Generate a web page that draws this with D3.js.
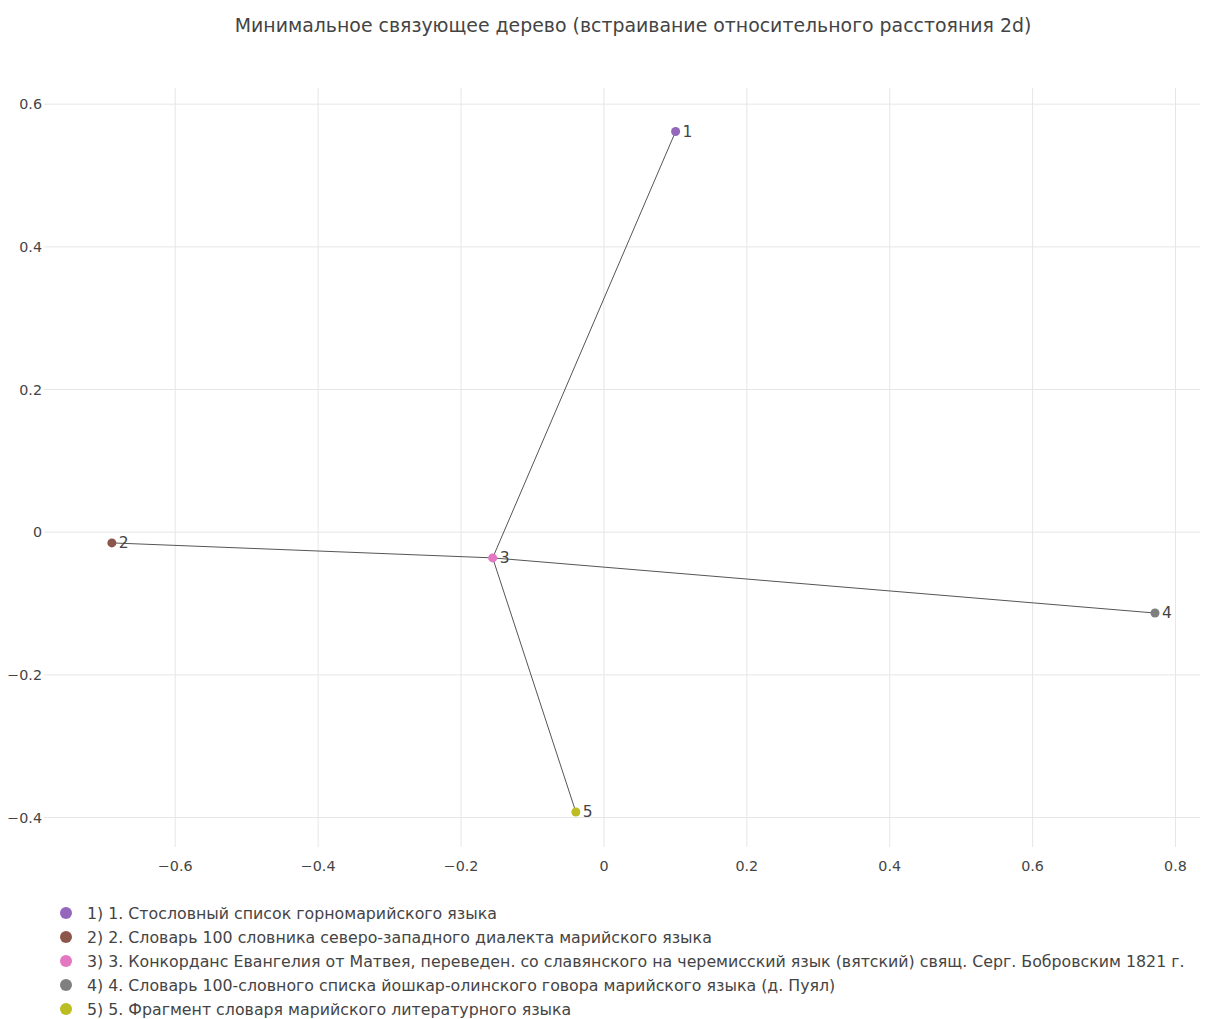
<!DOCTYPE html>
<html><head><meta charset="utf-8">
<script src="https://cdn.jsdelivr.net/npm/d3@7"></script>
<style>body{margin:0;background:#fff;} text{font-family:"DejaVu Sans",Verdana,sans-serif;}</style>
</head><body>
<svg id="c" width="1212" height="1019"></svg>
<script>
const ids = ["1","2","3","4","5"];
const xs = [0.101, -0.688, -0.155, 0.772, -0.0386];
const ys = [0.561, -0.0157, -0.0367, -0.114, -0.393];
const colors = ["#9467bd","#8c564b","#e377c2","#7f7f7f","#bcbd22"];
const names = [
 "1) 1. Стословный список горномарийского языка",
 "2) 2. Словарь 100 словника северо-западного диалекта марийского языка",
 "3) 3. Конкорданс Евангелия от Матвея, переведен. со славянского на черемисский язык (вятский) свящ. Серг. Бобровским 1821 г.",
 "4) 4. Словарь 100-словного списка йошкар-олинского говора марийского языка (д. Пуял)",
 "5) 5. Фрагмент словаря марийского литературного языка"
];
const edges = [[0,2],[1,2],[2,3],[2,4]];
const xTicks = [-0.6,-0.4,-0.2,0,0.2,0.4,0.6,0.8];
const yTicks = [-0.4,-0.2,0,0.2,0.4,0.6];
const title = "Минимальное связующее дерево (встраивание относительного расстояния 2d)";

const svg = d3.select("#c");
const L=44,R=1200,T=88,B=847;
const x = d3.scaleLinear().domain([-0.783,0.835]).range([L,R]);
const y = d3.scaleLinear().domain([-0.442,0.622]).range([B,T]);
const fmt = v => v===0 ? "0" : (v<0 ? "\u2212"+d3.format(".1f")(-v) : d3.format(".1f")(v));

svg.append("text").attr("x",633).attr("y",32).attr("text-anchor","middle")
  .attr("font-size",18.9).attr("fill","#444").text(title);

const gx = svg.append("g").attr("transform",`translate(0,${B})`)
  .call(d3.axisBottom(x).tickValues(xTicks).tickSize(-(B-T)).tickFormat(fmt));
const gy = svg.append("g").attr("transform",`translate(${L},0)`)
  .call(d3.axisLeft(y).tickValues(yTicks).tickSize(-(R-L)).tickFormat(fmt));
[gx,gy].forEach(g=>{
  g.select(".domain").remove();
  g.selectAll("line").attr("stroke","#e6e6e6").attr("stroke-width",1);
  g.selectAll("text").attr("fill","#444").attr("font-size",14.3).style("font-family",'"DejaVu Sans",Verdana,sans-serif');
});
gx.selectAll("text").attr("dy","0").attr("y",24);
gy.selectAll("text").attr("x",-2).attr("dy","0.35em");

svg.append("g").selectAll("line").data(edges).join("line")
  .attr("x1",d=>x(xs[d[0]])).attr("y1",d=>y(ys[d[0]]))
  .attr("x2",d=>x(xs[d[1]])).attr("y2",d=>y(ys[d[1]]))
  .attr("stroke","#555").attr("stroke-width",1);

const pts = svg.append("g").selectAll("g").data(ids).join("g")
  .attr("transform",(d,i)=>`translate(${x(xs[i])},${y(ys[i])})`);
pts.append("circle").attr("r",4.5).attr("fill",(d,i)=>colors[i]);
pts.append("text").attr("x",7).attr("dy","0.35em").attr("font-size",15.5).attr("fill","#444").text(d=>d);

const lg = svg.append("g").selectAll("g").data(names).join("g")
  .attr("transform",(d,i)=>`translate(66,${913+i*24})`);
lg.append("circle").attr("r",6).attr("fill",(d,i)=>colors[i]);
lg.append("text").attr("x",21).attr("dy","0.35em").attr("font-size",15.8).attr("fill","#444").text(d=>d);
</script>
</body></html>
